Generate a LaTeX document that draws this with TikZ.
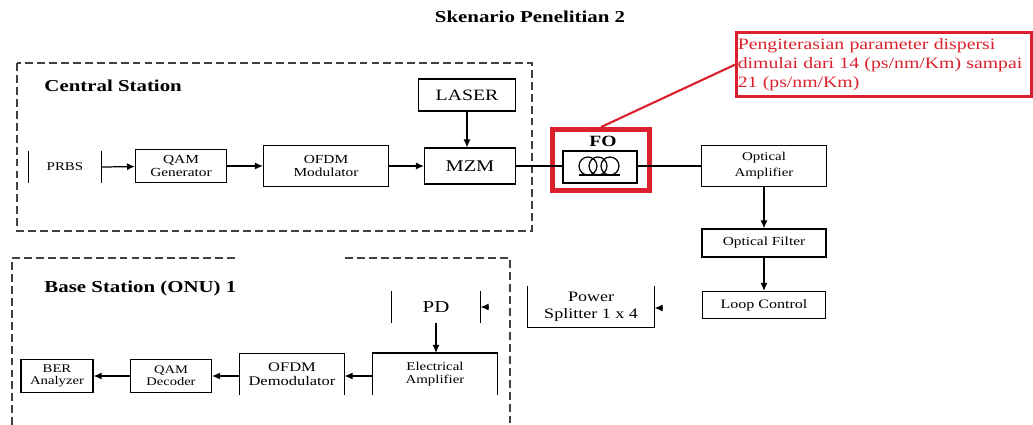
\documentclass[tikz,border=0pt]{standalone}
\usepackage{fontspec}
\setmainfont[FakeStretch=1.25]{Liberation Serif}
\usetikzlibrary{arrows.meta}

\definecolor{merahfo}{RGB}{218,32,44}
\newcommand{\ukuran}[2]{\fontsize{#1}{#2}\selectfont}
\hyphenpenalty=10000

\begin{document}
\begin{tikzpicture}[x=0.02cm, y=-0.02cm, line width=0.7pt,
  >={Latex[length=4.5pt,width=4pt]},
  blok/.style={draw, inner sep=0pt, align=center},
  kosong/.style={inner sep=0pt, align=center},
  putus/.style={draw=black!75, line width=0.75pt, dash pattern=on 4.5pt off 2.3pt}]
  \useasboundingbox (0,0) rectangle (1033,424);

  % judul
  \node[font=\bfseries\ukuran{9.5}{11}] (judul) at (530,17) {Skenario Penelitian 2};

  % Central Station
  \draw[putus] (17,63) rectangle (532,231);
  \node[anchor=west, font=\bfseries\ukuran{9.5}{11}] (cs) at (38,86) {Central Station};

  \node[kosong, minimum width=1.44cm, minimum height=0.62cm, font=\ukuran{6.8}{8}] (prbs) at (65,167) {PRBS};
  \draw (prbs.north west) -- (prbs.south west);
  \draw (prbs.north east) -- (prbs.south east);
  \node[blok, minimum width=1.82cm, minimum height=0.66cm, font=\ukuran{7}{7}] (qamgen) at (181,166) {QAM\\Generator};
  \node[blok, minimum width=2.5cm, minimum height=0.82cm, font=\ukuran{7}{7.6}] (ofdmmod) at (326,166) {OFDM\\Modulator};
  \node[blok, minimum width=1.82cm, minimum height=0.72cm, font=\ukuran{9.3}{11}] (mzm) at (470,166) {MZM};
  \node[blok, minimum width=1.94cm, minimum height=0.64cm, font=\ukuran{9}{11}] (laser) at (467,95) {LASER};

  \draw[->] (prbs.east) -- (qamgen);
  \draw[->] (qamgen) -- (ofdmmod);
  \draw[->] (ofdmmod) -- (mzm);
  \draw[->] (laser) -- (laser |- mzm.north);

  % serat optik (FO)
  \node[blok, minimum width=1.48cm, minimum height=0.64cm] (fo) at (600,167) {};
  \foreach \cx in {588,598,610}
    \draw (\cx,166) circle (0.18cm);
  \draw (579,175) -- (620,175);
  \node[font=\bfseries\ukuran{8.9}{10}] (folabel) at (603,141) {FO};
  \node[draw=merahfo, line width=2.8pt, inner sep=0pt, minimum width=1.94cm, minimum height=1.22cm] (fobox) at (601,160) {};

  \draw (mzm.east) -- (mzm.east -| fo.west);

  % keterangan
  \node[draw=merahfo, line width=1.6pt, text=merahfo, align=left, inner xsep=0.02cm, text width=5.85cm,
        minimum height=1.24cm, font=\ukuran{9}{10.8}] (note) at (884,64.5)
        {Pengiterasian parameter dispersi\\dimulai dari 14 (ps/nm/Km) sampai\\21 (ps/nm/Km)};
  \draw[merahfo, line width=1.2pt] (fobox.north) -- (note.west);

  % jalur optik
  \node[blok, minimum width=2.5cm, minimum height=0.82cm, font=\ukuran{6.8}{9}] (optamp) at (764,166) {Optical\\Amplifier};
  \node[blok, minimum width=2.48cm, minimum height=0.56cm, font=\ukuran{7}{8}] (optfilter) at (764,243) {Optical Filter};
  \node[blok, minimum width=2.46cm, minimum height=0.54cm, font=\ukuran{7.3}{8}] (loop) at (764,305) {Loop Control};
  \node[kosong, minimum width=2.52cm, minimum height=0.8cm, font=\ukuran{8.2}{9.6}] (splitter) at (591,307) {Power\\Splitter 1 x 4};
  \draw (splitter.north west) -- (splitter.south west) -- (splitter.south east) -- (splitter.north east);

  \draw (fo.east |- mzm.east) -- (optamp.west |- mzm.east);
  \draw[->] (optamp) -- (optfilter);
  \draw[->] (optfilter) -- (loop);
  \coordinate (ujungloop) at (662,308);
  \draw[->] (ujungloop) -- (splitter.east |- ujungloop);

  % Base Station (ONU) 1
  \draw[putus] (235,258) -- (12,258) -- (12,440);
  \draw[putus] (345,258) -- (510,258) -- (510,440);
  \node[anchor=west, font=\bfseries\ukuran{9.5}{11}] (bs) at (38,288) {Base Station (ONU) 1};

  \node[kosong, minimum width=1.76cm, minimum height=0.62cm, font=\ukuran{9.5}{11}] (pd) at (436,307) {PD};
  \draw (pd.north west) -- (pd.south west);
  \draw (pd.north east) -- (pd.south east);
  \coordinate (ujungsplit) at (489,307);
  \draw[->] (ujungsplit) -- (pd.east);

  \node[kosong, minimum width=2.48cm, minimum height=0.82cm, font=\ukuran{6.8}{7.6}] (elamp) at (435,374) {Electrical\\Amplifier};
  \draw (elamp.south west) -- (elamp.north west) -- (elamp.north east) -- (elamp.south east);
  \node[kosong, minimum width=2.08cm, minimum height=0.8cm, font=\ukuran{7.5}{7.8}] (ofdmdem) at (292,374) {OFDM\\Demodulator};
  \draw (ofdmdem.south west) -- (ofdmdem.north west) -- (ofdmdem.north east) -- (ofdmdem.south east);
  \node[blok, minimum width=1.62cm, minimum height=0.66cm, font=\ukuran{6.6}{7}] (qamdec) at (171,376) {QAM\\Decoder};
  \node[blok, minimum width=1.44cm, minimum height=0.66cm, font=\ukuran{6.7}{7}] (ber) at (57,376) {BER\\Analyzer};

  \draw[->] (pd.south) -- (pd.south |- elamp.north);
  \draw[->] (elamp.west |- qamdec) -- (ofdmdem.east |- qamdec);
  \draw[->] (ofdmdem.west |- qamdec) -- (qamdec);
  \draw[->] (qamdec) -- (ber);
\end{tikzpicture}
\end{document}
